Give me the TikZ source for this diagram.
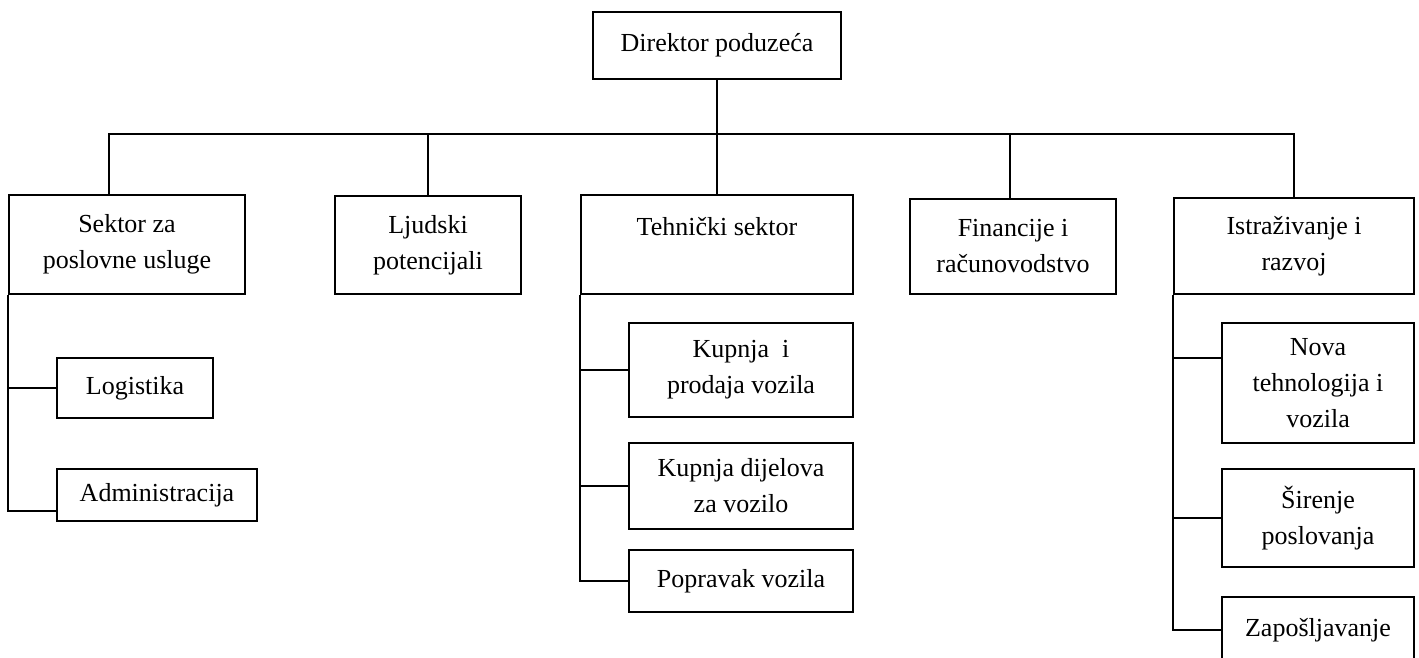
\documentclass[tikz,border=0pt]{standalone}
\usepackage{fontspec}
\setmainfont{Liberation Serif}

\begin{document}
\begin{tikzpicture}[x=1pt,y=-1pt,line width=1.6pt,
	box/.style={draw,align=center,inner sep=0pt,font=\fontsize{26}{36}\selectfont}]
		\useasboundingbox (0,0) rectangle (1419,658);
		\node[box,minimum width=248,minimum height=67] (dir) at (717,45.5) {Direktor poduzeća};
		\node[box,minimum width=236,minimum height=99] (sek) at (127,244.5) {Sektor za\\poslovne usluge};
		\node[box,minimum width=186,minimum height=98] (ljud) at (428,245) {Ljudski\\potencijali};
		\node[box,minimum width=272,minimum height=99] (teh) at (717,244.5) {Tehnički sektor\\ \mbox{}};
		\node[box,minimum width=206,minimum height=95] (fin) at (1013,246.5) {Financije i\\računovodstvo};
		\node[box,minimum width=240,minimum height=96] (ist) at (1294,246) {Istraživanje i\\razvoj};
		\node[box,minimum width=156,minimum height=60] (log) at (135,388) {Logistika};
		\node[box,minimum width=200,minimum height=52] (adm) at (157,495) {Administracija};
		\node[box,minimum width=224,minimum height=94] (kup) at (741,370) {Kupnja~ i\\prodaja vozila};
		\node[box,minimum width=224,minimum height=86] (dij) at (741,486) {Kupnja dijelova\\za vozilo};
		\node[box,minimum width=224,minimum height=62] (pop) at (741,581) {Popravak vozila};
		\node[box,minimum width=192,minimum height=120] (nova) at (1318,383) {Nova\\tehnologija i\\vozila};
		\node[box,minimum width=192,minimum height=98] (sir) at (1318,518) {Širenje\\poslovanja};
		\node[box,minimum width=192,minimum height=66] (zap) at (1318,630) {Zapošljavanje};
		\coordinate (bus) at (717,134);
		\draw (dir.south) -- (bus);
		\draw ([xshift=-18pt]sek.north) |- (bus) -| (ist.north);
		\draw (ljud.north) -- (ljud.north |- bus);
		\draw (teh.north) -- (bus);
		\draw ([xshift=-3pt]fin.north) -- ([xshift=-3pt]fin.north |- bus);
		\draw (sek.south west) |- ([yshift=-16pt]adm.west);
		\draw (log.west) -- (log.west -| sek.south west);
		\draw (teh.south west) |- (pop.west);
		\draw (kup.west) -- (kup.west -| teh.south west);
		\draw (dij.west) -- (dij.west -| teh.south west);
		\draw (ist.south west) |- (zap.west);
		\draw ([yshift=25pt]nova.west) -- ([yshift=25pt]nova.west -| ist.south west);
		\draw (sir.west) -- (sir.west -| ist.south west);
	\end{tikzpicture}
\end{document}
